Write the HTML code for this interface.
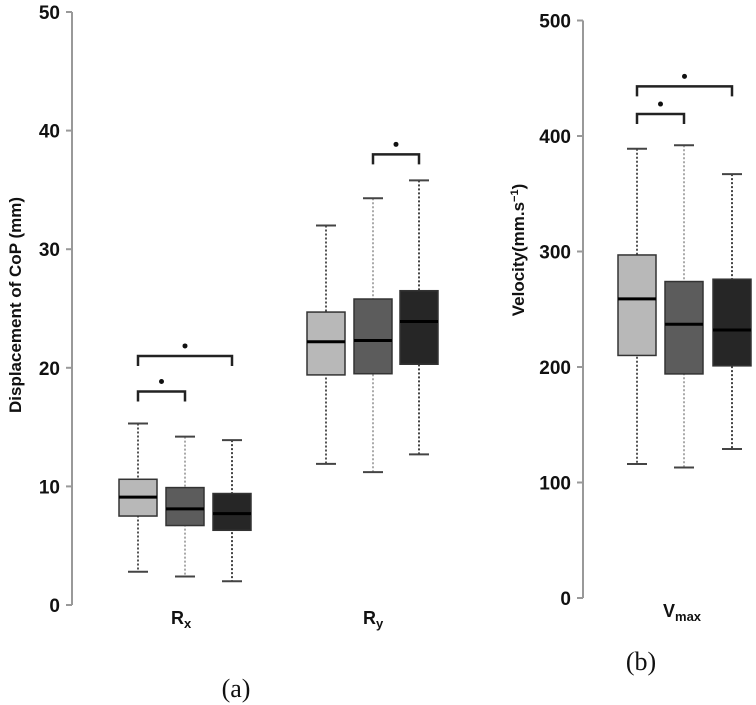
<!DOCTYPE html>
<html><head><meta charset="utf-8"><style>
body{margin:0;background:#fff}svg{display:block}
text{font-family:"Liberation Sans",sans-serif;font-weight:bold;fill:#111}
</style></head><body>
<svg id="c" width="756" height="705"></svg>
<script>
// Panel (a)
const groupsA = ["Rx","Ry"];
const whiskerHiA = [[15.3,14.2,13.9],[32.0,34.3,35.8]];
const q3A = [[10.6,9.9,9.4],[24.7,25.8,26.5]];
const medianA = [[9.1,8.1,7.7],[22.2,22.3,23.9]];
const q1A = [[7.5,6.7,6.3],[19.4,19.5,20.3]];
const whiskerLoA = [[2.8,2.4,2.0],[11.9,11.2,12.7]];
const ticksA = [0,10,20,30,40,50];
const sigA = [[0,0,1,18.0],[0,0,2,21.0],[1,1,2,38.0]]; // group, from, to, level
// Panel (b)
const whiskerHiB = [389,392,367];
const q3B = [297,274,276];
const medianB = [259,237,232];
const q1B = [210,194,201];
const whiskerLoB = [116,113,129];
const ticksB = [0,100,200,300,400,500];
const sigB = [[0,1,419],[0,2,443]];

const fills=["#b8b8b8","#5c5c5c","#262626"];
const whiskCol=["#555","#aaa","#444"];
const svg=document.getElementById('c');
const NS="http://www.w3.org/2000/svg";
function mk(t,a,p){const e=document.createElementNS(NS,t);for(const k in a)e.setAttribute(k,a[k]);(p||svg).appendChild(e);return e;}
const yA=v=>605-v*11.86;
const yB=v=>598-v*1.155;

function drawBox(cx,hi,q3,med,q1,lo,i,y,name){
  const g=mk('g',{});
  
  
  mk('line',{x1:cx,x2:cx,y1:y(hi),y2:y(lo),stroke:whiskCol[i],'stroke-width':2,'stroke-dasharray':'2,2'},g);
  mk('line',{x1:cx-10,x2:cx+10,y1:y(hi),y2:y(hi),stroke:'#444','stroke-width':2},g);
  mk('line',{x1:cx-10,x2:cx+10,y1:y(lo),y2:y(lo),stroke:'#444','stroke-width':2},g);
  mk('rect',{x:cx-19,y:y(q3),width:38,height:y(q1)-y(q3),fill:fills[i],stroke:'#333','stroke-width':1.5},g);
  mk('line',{x1:cx-19,x2:cx+19,y1:y(med),y2:y(med),stroke:'#000','stroke-width':3},g);
}
function bracket(x1,x2,yy,name){
  const g=mk('g',{});
  
  
  mk('path',{d:`M${x1},${yy+10}V${yy}H${x2}V${yy+10}`,fill:'none',stroke:'#222','stroke-width':2.5},g);
  mk('circle',{cx:(x1+x2)/2,cy:yy-10,r:2.5,fill:'#111'},g);
}
function axis(x,ticks,y,name){
  const g=mk('g',{});
  
  
  mk('line',{x1:x,x2:x,y1:y(ticks[ticks.length-1]),y2:y(ticks[0]),stroke:'#999','stroke-width':2},g);
  ticks.forEach(t=>{
    mk('line',{x1:x-6,x2:x,y1:y(t),y2:y(t),stroke:'#999','stroke-width':2},g);
    const tx=mk('text',{x:x-12,y:y(t)+7,'text-anchor':'end','font-size':19},g);tx.textContent=t;
  });
}
axis(72,ticksA,yA,'y-axis-a');
axis(583,ticksB,yB,'y-axis-b');
const centersA=[[138,185,232],[326,373,419]];
groupsA.forEach((gname,gi)=>{for(let i=0;i<3;i++)drawBox(centersA[gi][i],whiskerHiA[gi][i],q3A[gi][i],medianA[gi][i],q1A[gi][i],whiskerLoA[gi][i],i,yA,'box-'+gname+'-'+(i+1));});
const centersB=[637,684,732];
for(let i=0;i<3;i++)drawBox(centersB[i],whiskerHiB[i],q3B[i],medianB[i],q1B[i],whiskerLoB[i],i,yB,'box-vmax-'+(i+1));
sigA.forEach(s=>bracket(centersA[s[0]][s[1]],centersA[s[0]][s[2]],yA(s[3]),'significance-bracket'));
sigB.forEach(s=>bracket(centersB[s[0]],centersB[s[1]],yB(s[2]),'significance-bracket'));
</script>
<svg style="position:absolute;left:0;top:0" width="756" height="705">
<text transform="translate(21,305) rotate(-90)" text-anchor="middle" font-size="17">Displacement of CoP (mm)</text>
<text transform="translate(524,250) rotate(-90)" text-anchor="middle" font-size="17">Velocity(mm.s<tspan dy="-6" font-size="11">−1</tspan><tspan dy="6">)</tspan></text>
<text x="171" y="624" font-size="18">R<tspan dy="4" font-size="13">x</tspan></text>
<text x="363" y="624" font-size="18">R<tspan dy="4" font-size="13">y</tspan></text>
<text x="663" y="617" font-size="18">V<tspan dy="4" font-size="13">max</tspan></text>
<text x="236" y="697" text-anchor="middle" font-size="26" style="font-family:'Liberation Serif',serif;font-weight:normal">(a)</text>
<text x="641" y="670" text-anchor="middle" font-size="26" style="font-family:'Liberation Serif',serif;font-weight:normal">(b)</text>
</svg>
</body></html>
